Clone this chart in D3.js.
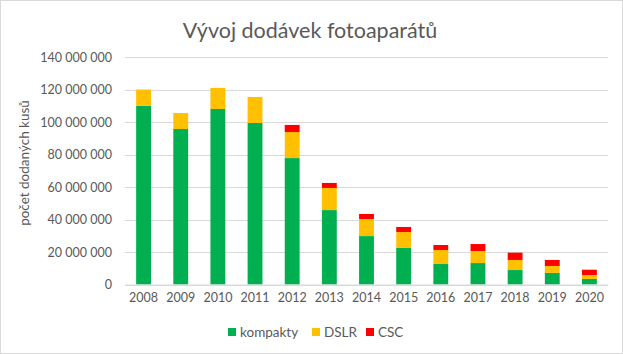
<!DOCTYPE html>
<html>
<head>
<meta charset="utf-8">
<title>Vývoj dodávek fotoaparátů</title>
<style>
body { margin: 0; background: #fff; }
text { font-family: Lato, "Open Sans", sans-serif; fill: #595959; }
</style>
<script src="https://d3js.org/d3.v7.min.js"></script>
</head>
<body>
<svg id="chart" width="623" height="354"></svg>
<script>
const years = ["2008", "2009", "2010", "2011", "2012", "2013", "2014", "2015", "2016", "2017", "2018", "2019", "2020"];
const kompakty = [110.0, 95.7, 108.0, 99.4, 77.8, 45.8, 29.8, 22.5, 12.6, 13.2, 8.9, 7.1, 3.4].map(v => v * 1e6);
const dslr = [10.0, 9.8, 13.0, 16.0, 16.0, 13.6, 10.5, 9.8, 8.6, 7.4, 6.2, 4.3, 2.4].map(v => v * 1e6);
const csc = [0, 0, 0, 0, 4.4, 3.1, 3.1, 3.1, 3.1, 4.3, 4.5, 3.7, 3.3].map(v => v * 1e6);
const seriesNames = ["kompakty", "DSLR", "CSC"];
const colors = ["#00b050", "#ffc000", "#ff0000"];
const yTicks = [0, 20e6, 40e6, 60e6, 80e6, 100e6, 120e6, 140e6];

const svg = d3.select("#chart");
const W = 623, H = 354;
const PLOT_L = 125, PLOT_R = 608, PLOT_T = 57, PLOT_B = 284.5;

svg.append("rect")
   .attr("x", 0.5).attr("y", 0.5)
   .attr("width", W - 1).attr("height", H - 1)
   .attr("fill", "#fff").attr("stroke", "#d9d9d9");

const rows = years.map((y, i) => ({ year: y, kompakty: kompakty[i], DSLR: dslr[i], CSC: csc[i] }));
const stacked = d3.stack().keys(seriesNames)(rows);

const x = d3.scaleBand().domain(years).range([PLOT_L, PLOT_R]).paddingInner(0.6).paddingOuter(0.3);
const y = d3.scaleLinear().domain([0, 140e6]).range([PLOT_B, PLOT_T]);

const fmt = v => d3.format(",")(v).replace(/,/g, " ");

// gridlines
svg.append("g")
   .selectAll("line")
   .data(yTicks)
   .join("line")
   .attr("x1", PLOT_L).attr("x2", PLOT_R)
   .attr("y1", d => Math.round(y(d)) + 0.5)
   .attr("y2", d => Math.round(y(d)) + 0.5)
   .attr("stroke", "#d9d9d9");

// y axis labels
const yAxis = d3.axisLeft(y).tickValues(yTicks).tickFormat(fmt).tickSize(0).tickPadding(13);
const gy = svg.append("g").attr("transform", `translate(${PLOT_L},0)`).call(yAxis);
gy.select(".domain").remove();
gy.selectAll("text").style("font-size", "12.5px").attr("fill", "#595959");

// bars
svg.append("g")
   .selectAll("g")
   .data(stacked)
   .join("g")
   .attr("fill", (d, i) => colors[i])
   .selectAll("rect")
   .data(d => d)
   .join("rect")
   .attr("x", d => x(d.data.year))
   .attr("width", x.bandwidth())
   .attr("y", d => y(d[1]))
   .attr("height", d => y(d[0]) - y(d[1]));

// x axis
const xAxis = d3.axisBottom(x).tickSize(0).tickPadding(9);
const gx = svg.append("g").attr("transform", `translate(0,${PLOT_B})`).call(xAxis);
gx.select(".domain").attr("stroke", "#d9d9d9");
gx.selectAll("text").style("font-size", "12.5px").attr("fill", "#595959");

// title
svg.append("text")
   .attr("x", 310).attr("y", 38)
   .attr("text-anchor", "middle")
   .style("font-size", "21.5px")
   .text("Vývoj dodávek fotoaparátů");

// y axis title
svg.append("text")
   .attr("transform", "translate(29,163) rotate(-90)")
   .attr("text-anchor", "middle")
   .style("font-size", "13.5px")
   .text("počet dodaných kusů");

// legend
const legendX = [228, 312, 366];
const legend = svg.append("g")
   .selectAll("g")
   .data(seriesNames)
   .join("g")
   .attr("transform", (d, i) => `translate(${legendX[i]},332)`);
legend.append("rect")
   .attr("x", 0).attr("y", -4)
   .attr("width", 8).attr("height", 8)
   .attr("fill", (d, i) => colors[i]);
legend.append("text")
   .attr("x", 12).attr("y", 4.5)
   .style("font-size", "13.5px")
   .text(d => d);
</script>
</body>
</html>
